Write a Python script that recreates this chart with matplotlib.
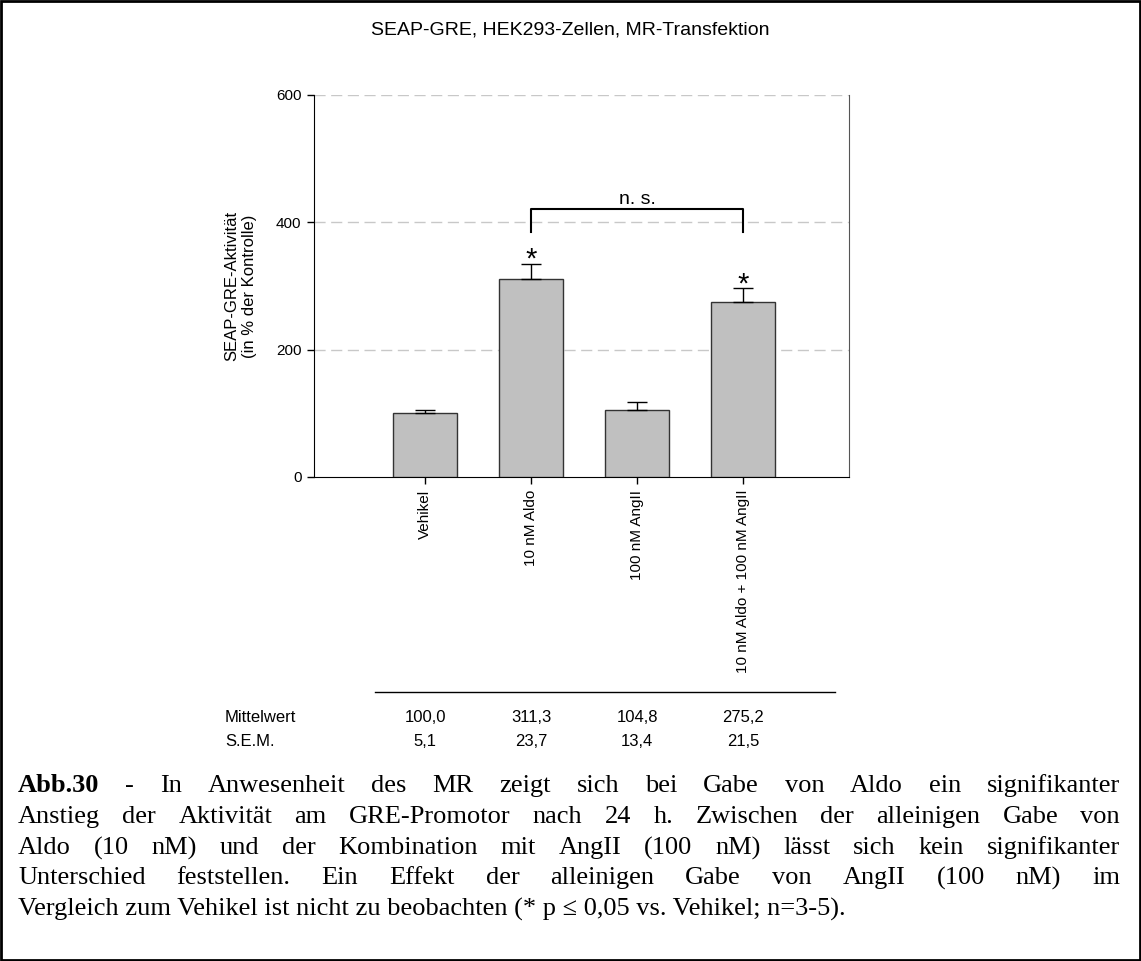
import matplotlib
matplotlib.use("Agg")
import matplotlib.pyplot as plt
import numpy as np
from matplotlib.patches import Rectangle

# Data
groups = ["Vehikel", "10 nM Aldo", "100 nM AngII", "10 nM Aldo + 100 nM AngII"]
means = [100.0, 311.3, 104.8, 275.2]
sems = [5.1, 23.7, 13.4, 21.5]
significant = [False, True, False, True]
mean_labels = ["100,0", "311,3", "104,8", "275,2"]
sem_labels = ["5,1", "23,7", "13,4", "21,5"]
yticks = [0, 200, 400, 600]

title = "SEAP-GRE, HEK293-Zellen, MR-Transfektion"
ylabel = "SEAP-GRE-Aktivität\n(in % der Kontrolle)"
caption_lines = [
    "Abb.30 - In Anwesenheit des MR zeigt sich bei Gabe von Aldo ein signifikanter",
    "Anstieg der Aktivität am GRE-Promotor nach 24 h. Zwischen der alleinigen Gabe von",
    "Aldo (10 nM) und der Kombination mit AngII (100 nM) lässt sich kein signifikanter",
    "Unterschied feststellen. Ein Effekt der alleinigen Gabe von AngII (100 nM) im",
    "Vergleich zum Vehikel ist nicht zu beobachten (* p \u2264 0,05 vs. Vehikel; n=3-5).",
]

plt.rcParams["font.family"] = ["Liberation Sans", "DejaVu Sans"]

W, H = 1141, 961
fig = plt.figure(figsize=(W / 100, H / 100), dpi=100)

# Outer frame
fig.patches.append(Rectangle((0.001, 0.001), 0.998, 0.998, transform=fig.transFigure,
                             fill=False, edgecolor="black", linewidth=2))

ax = fig.add_axes([314 / W, 1 - 477 / H, (849 - 314) / W, (477 - 95) / H])
x = np.arange(len(groups))
ax.bar(x, means, width=0.6, color="#c0c0c0", edgecolor="#333333", linewidth=1, zorder=3)
ax.errorbar(x, means, yerr=[np.zeros(len(sems)), sems], fmt="none", ecolor="black",
            elinewidth=1, capsize=7, capthick=1, zorder=4)

ax.set_xlim(-1.05, 4.0)
ax.set_ylim(0, 600)
ax.set_yticks(yticks)
ax.set_yticklabels([str(t) for t in yticks], fontsize=11)
ax.set_xticks(x)
ax.set_xticklabels(groups, rotation=90, fontsize=11, va="top")
ax.tick_params(axis="both", direction="out", length=5, width=1, pad=4)
for t in yticks[1:]:
    ax.axhline(t, color="#c8c8c8", linestyle=(0, (8, 4)), linewidth=1, zorder=1)
ax.spines["top"].set_visible(False)
ax.spines["right"].set_color("#555555")
ax.spines["right"].set_linewidth(0.8)
ax.set_ylabel(ylabel, fontsize=12, labelpad=14)

# Asterisks
for xi, m, s, sig in zip(x, means, sems, significant):
    if sig:
        ax.annotate("*", xy=(xi, m + s), xytext=(0, -3), textcoords="offset points",
                    ha="center", va="baseline", fontsize=21)

# Bracket
ax.plot([1, 1, 3, 3], [385, 421, 421, 385], color="black", linewidth=1.5, zorder=5)
ax.text(2.0, 423, "n. s.", ha="center", va="bottom", fontsize=14)

fig.text(0.5, 1 - 30 / H, title, ha="center", va="center", fontsize=14)

# Table below the chart
fig.add_artist(plt.Line2D([375 / W, 835 / W], [1 - 692 / H, 1 - 692 / H],
                          color="black", linewidth=1))
fig.text(225 / W, 1 - 717 / H, "Mittelwert", ha="left", va="center", fontsize=12)
fig.text(225 / W, 1 - 742 / H, "S.E.M.", ha="left", va="center", fontsize=12)
for xi, ml, sl in zip(x, mean_labels, sem_labels):
    xd = ax.transData.transform((xi, 0))[0] / W
    fig.text(xd, 1 - 717 / H, ml, ha="center", va="center", fontsize=12)
    fig.text(xd, 1 - 742 / H, sl, ha="center", va="center", fontsize=12)

# Justified caption
renderer = fig.canvas.get_renderer()
cap_font = dict(family=["Liberation Serif", "DejaVu Serif"], fontsize=19)
x0, x1 = 18 / W, 1120 / W
line_y = [786, 817, 848, 878, 909]
for i, (line, yy) in enumerate(zip(caption_lines, line_y)):
    y = 1 - yy / H
    if i == len(caption_lines) - 1:
        fig.text(x0, y, line, ha="left", va="center", **cap_font)
        continue
    words = line.split(" ")
    arts = []
    for j, w in enumerate(words):
        weight = "bold" if (i == 0 and j == 0) else "normal"
        arts.append(fig.text(0, y, w, ha="left", va="center", weight=weight, **cap_font))
    widths = [a.get_window_extent(renderer).width / W for a in arts]
    gap = (x1 - x0 - sum(widths)) / (len(words) - 1)
    pos = x0
    for a, wd in zip(arts, widths):
        a.set_x(pos)
        pos += wd + gap

fig.savefig("out.png", dpi=100)
